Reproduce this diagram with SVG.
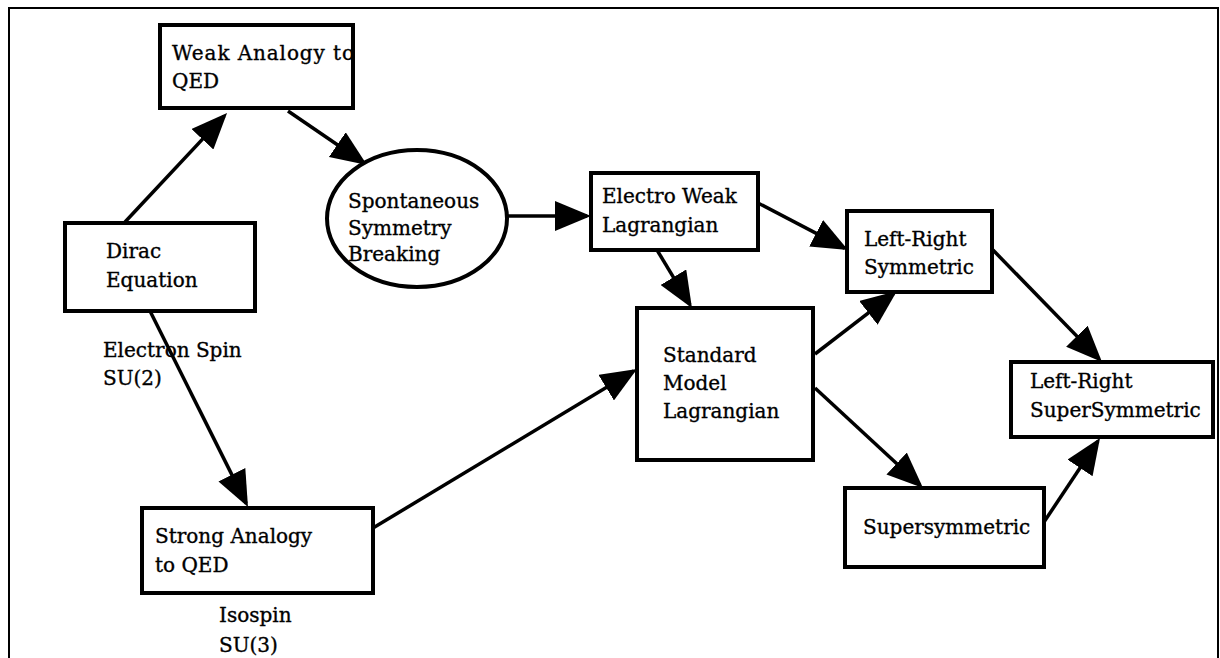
<svg xmlns="http://www.w3.org/2000/svg" width="1220" height="658" viewBox="0 0 1220 658">
<style>
.box{fill:#fff;stroke:#000;stroke-width:4}
.t{font-family:"DejaVu Serif","Liberation Serif",serif;font-size:20px;fill:#000;stroke:#000;stroke-width:0.35}
.c{stroke:#000;stroke-width:3.5;fill:none;marker-end:url(#ah)}
.frame{stroke:#000;stroke-width:2;fill:none}
</style>
<defs>
<marker id="ah" markerUnits="userSpaceOnUse" markerWidth="36" markerHeight="30" refX="32" refY="15" orient="auto">
<path d="M0,0 L36,15 L0,30 z" fill="#000"/>
</marker>
<clipPath id="clipWeak"><rect x="160" y="25" width="191" height="83"/></clipPath>
</defs>
<rect width="1220" height="658" fill="#fff"/>
<path class="frame" d="M9,658 V8 H1218 V658"/>
<g id="connectors">
<line class="c" x1="125" y1="222" x2="224.3" y2="115.9"/>
<line class="c" x1="288" y1="111" x2="363.7" y2="162.7"/>
<line class="c" x1="507" y1="216" x2="587" y2="216"/>
<line class="c" x1="758" y1="203" x2="844.5" y2="248.1"/>
<line class="c" x1="657" y1="250" x2="689.9" y2="304.6"/>
<line class="c" x1="815" y1="354" x2="893.8" y2="293.4"/>
<line class="c" x1="815" y1="388" x2="920.1" y2="485.3"/>
<line class="c" x1="993" y1="250" x2="1099.2" y2="359.1"/>
<line class="c" x1="1044" y1="522" x2="1097.8" y2="441.3"/>
<line class="c" x1="150" y1="311" x2="246.2" y2="503.4"/>
<line class="c" x1="373" y1="528" x2="633.6" y2="371.1"/>
</g>
<g id="weak">
<rect class="box" x="160" y="25" width="193" height="83"/>
<g clip-path="url(#clipWeak)"><text class="t" x="172" y="60" textLength="182">Weak Analogy to</text></g>
<text class="t" x="172" y="88">QED</text>
</g>
<g id="dirac">
<rect class="box" x="65" y="223" width="190" height="88"/>
<text class="t" x="106" y="258">Dirac</text>
<text class="t" x="106" y="287">Equation</text>
</g>
<g id="ssb">
<ellipse class="box" cx="417" cy="218.5" rx="90" ry="68.5"/>
<text class="t" x="348" y="208">Spontaneous</text>
<text class="t" x="348" y="234.5">Symmetry</text>
<text class="t" x="348" y="261">Breaking</text>
</g>
<g id="electroweak">
<rect class="box" x="591" y="173" width="167" height="77"/>
<text class="t" x="602" y="203">Electro Weak</text>
<text class="t" x="602" y="232">Lagrangian</text>
</g>
<g id="lrsym">
<rect class="box" x="847" y="211" width="145" height="81"/>
<text class="t" x="864" y="246">Left-Right</text>
<text class="t" x="864" y="274">Symmetric</text>
</g>
<g id="standard">
<rect class="box" x="637" y="308" width="176" height="152"/>
<text class="t" x="663" y="362">Standard</text>
<text class="t" x="663" y="390">Model</text>
<text class="t" x="663" y="418">Lagrangian</text>
</g>
<g id="lrsupersym">
<rect class="box" x="1011" y="362" width="202" height="75"/>
<text class="t" x="1030" y="388">Left-Right</text>
<text class="t" x="1030" y="417">SuperSymmetric</text>
</g>
<g id="supersym">
<rect class="box" x="845" y="488" width="199" height="79"/>
<text class="t" x="863" y="534">Supersymmetric</text>
</g>
<g id="strong">
<rect class="box" x="142" y="508" width="231" height="85"/>
<text class="t" x="155" y="543">Strong Analogy</text>
<text class="t" x="155" y="572">to QED</text>
</g>
<g id="labels">
<text class="t" x="103" y="357">Electron Spin</text>
<text class="t" x="103" y="385">SU(2)</text>
<text class="t" x="219" y="622">Isospin</text>
<text class="t" x="219" y="652">SU(3)</text>
</g>
</svg>
